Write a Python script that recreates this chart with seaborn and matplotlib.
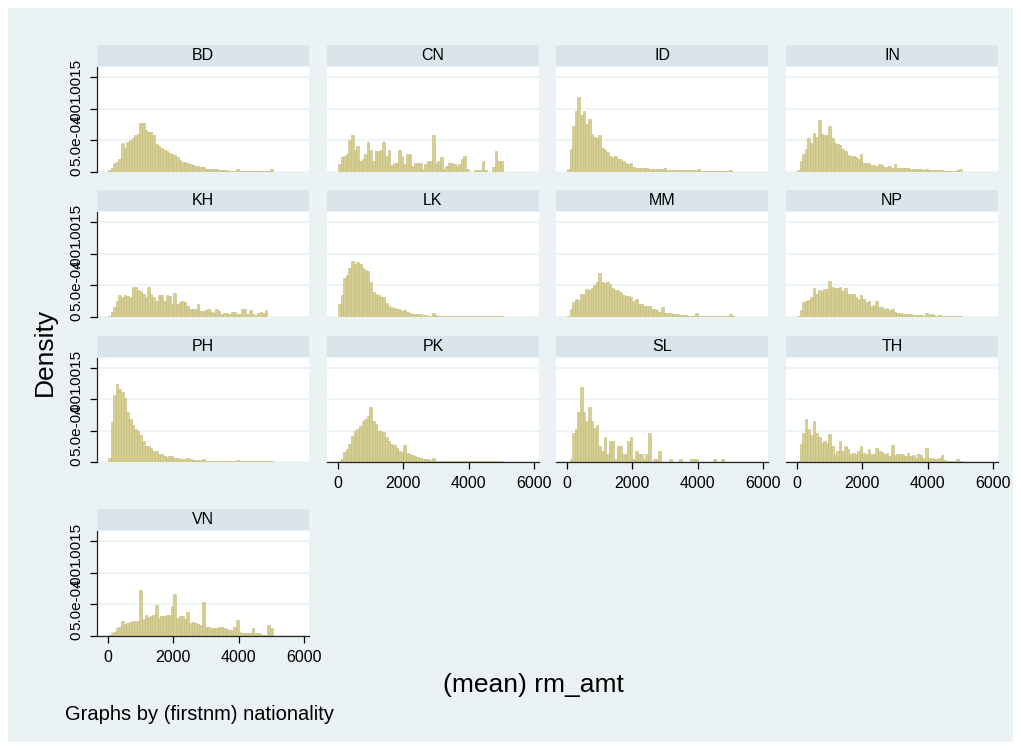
import numpy as np
import pandas as pd
import matplotlib
matplotlib.use("Agg")
import matplotlib.pyplot as plt
from matplotlib.patches import Rectangle
import seaborn as sns

# ---------------- data (bin densities, in units of 1e-5) ----------------
nationalities = ["BD", "CN", "ID", "IN", "KH", "LK", "MM", "NP", "PH", "PK", "SL", "TH", "VN"]
bin_width = 80
n_bins = 64

bd = [3, 6, 15, 16, 20, 46, 38, 47, 50, 53, 58, 60, 78, 78, 67, 63, 63, 59, 45, 41,
      38, 35, 33, 30, 29, 27, 24, 19, 16, 16, 14, 12, 11, 10, 10, 8, 8, 5, 5, 4,
      4, 4, 3, 3, 3, 3, 2, 2, 2, 4, 2, 2, 2, 2, 2, 2, 2, 2, 2, 2,
      2, 2, 4, 0]
cn = [12, 23, 25, 29, 50, 58, 34, 41, 18, 21, 29, 48, 35, 17, 33, 33, 35, 48, 26, 35,
      11, 15, 15, 35, 26, 12, 29, 29, 9, 15, 15, 15, 5, 12, 17, 17, 58, 14, 17, 23,
      5, 9, 15, 15, 12, 9, 12, 20, 26, 5, 0, 0, 3, 3, 3, 17, 3, 0, 0, 8,
      33, 17, 17, 0]
id_ = [4, 36, 73, 96, 119, 90, 97, 76, 83, 60, 55, 53, 58, 38, 34, 31, 26, 24, 25, 20,
       20, 17, 14, 12, 15, 8, 7, 7, 6, 6, 7, 5, 4, 4, 4, 4, 4, 6, 3, 3,
       3, 3, 3, 3, 3, 3, 3, 3, 3, 3, 5, 2, 2, 2, 2, 2, 2, 2, 2, 2,
       2, 2, 3, 0]
in_ = [3, 18, 28, 37, 54, 46, 62, 55, 82, 60, 59, 58, 72, 53, 46, 45, 43, 37, 33, 27,
       26, 26, 23, 21, 28, 15, 14, 14, 11, 11, 10, 13, 11, 8, 8, 9, 6, 12, 6, 7,
       7, 6, 6, 5, 5, 4, 4, 4, 3, 5, 3, 3, 3, 3, 3, 3, 2, 2, 2, 2,
       2, 3, 4, 0]
kh = [1, 8, 16, 26, 34, 32, 35, 33, 31, 48, 48, 43, 41, 37, 32, 48, 37, 32, 26, 35,
      34, 26, 34, 33, 21, 38, 21, 24, 26, 24, 18, 13, 13, 12, 20, 9, 9, 11, 12, 8,
      7, 12, 9, 5, 7, 7, 5, 8, 8, 4, 5, 12, 12, 4, 11, 4, 3, 7, 8, 7,
      11, 0, 0, 0]
lk = [20, 34, 61, 66, 78, 88, 83, 87, 83, 78, 74, 72, 55, 40, 37, 34, 32, 31, 22, 17,
      16, 14, 12, 12, 9, 11, 8, 6, 5, 5, 4, 4, 3, 3, 2, 2, 7, 3, 2, 1,
      1, 1, 1, 1, 1, 1, 1, 1, 1, 1, 1, 1, 1, 1, 1, 1, 1, 1, 1, 1,
      1, 1, 1, 0]
mm = [1, 12, 23, 29, 27, 37, 37, 44, 42, 46, 50, 55, 69, 56, 54, 55, 52, 46, 43, 42,
      40, 34, 33, 33, 31, 25, 29, 21, 20, 18, 18, 17, 13, 12, 11, 8, 16, 7, 6, 6,
      5, 4, 4, 3, 3, 3, 2, 2, 2, 6, 1, 1, 2, 1, 2, 1, 2, 1, 1, 1,
      1, 2, 4, 1]
np_ = [1, 11, 24, 26, 27, 32, 46, 36, 42, 41, 44, 44, 57, 48, 46, 46, 47, 41, 46, 36,
       36, 36, 32, 29, 34, 28, 24, 26, 18, 19, 25, 16, 16, 13, 15, 11, 13, 8, 6, 6,
       5, 4, 5, 4, 3, 3, 3, 3, 2, 7, 3, 4, 3, 2, 3, 2, 2, 2, 2, 2,
       1, 2, 1, 0]
ph = [7, 64, 107, 125, 117, 112, 102, 80, 68, 59, 52, 50, 43, 33, 26, 25, 22, 18, 18, 13,
      12, 10, 8, 9, 9, 7, 7, 5, 5, 5, 6, 4, 3, 3, 3, 3, 4, 2, 2, 2,
      2, 2, 2, 2, 2, 2, 2, 2, 2, 3, 2, 2, 2, 2, 2, 2, 2, 2, 2, 2,
      2, 2, 2, 0]
pk = [1, 5, 16, 20, 29, 41, 50, 53, 58, 66, 69, 74, 88, 66, 61, 50, 50, 48, 40, 34,
      29, 27, 22, 18, 16, 27, 15, 13, 11, 9, 8, 6, 5, 4, 4, 3, 6, 2, 2, 2,
      1, 1, 1, 1, 1, 1, 1, 1, 1, 2, 1, 1, 1, 1, 1, 1, 1, 1, 1, 1,
      1, 1, 1, 0]
sl = [0, 4, 46, 53, 80, 120, 80, 66, 87, 66, 54, 59, 26, 18, 40, 12, 33, 33, 5, 26,
      26, 12, 12, 33, 40, 5, 18, 12, 12, 5, 12, 46, 0, 5, 5, 18, 0, 0, 0, 5,
      0, 0, 0, 5, 0, 0, 0, 5, 5, 5, 0, 0, 0, 0, 0, 0, 5, 0, 0, 5,
      0, 0, 0, 0]
th = [1, 29, 47, 69, 53, 43, 66, 46, 40, 31, 34, 31, 45, 26, 13, 18, 34, 18, 26, 21,
      12, 15, 13, 18, 26, 15, 13, 21, 12, 12, 22, 18, 16, 13, 14, 9, 27, 11, 13, 13,
      13, 9, 14, 9, 11, 6, 12, 11, 6, 22, 7, 6, 4, 4, 7, 11, 3, 2, 2, 1,
      2, 5, 1, 0]
vn = [1, 5, 7, 12, 14, 24, 19, 21, 22, 23, 23, 23, 72, 27, 33, 30, 32, 33, 49, 29,
      32, 32, 33, 33, 47, 66, 29, 31, 31, 27, 38, 21, 22, 21, 19, 17, 53, 14, 14, 13,
      12, 13, 14, 14, 13, 11, 9, 9, 15, 25, 6, 5, 5, 5, 5, 12, 4, 4, 3, 2,
      2, 18, 12, 0]

yticks = [0, 0.0005, 0.001, 0.0015]
ytick_labels = ["0", "5.0e-04", ".001", ".0015"]
xticks = [0, 2000, 4000, 6000]
xtick_labels = ["0", "2000", "4000", "6000"]

series = [bd, cn, id_, in_, kh, lk, mm, np_, ph, pk, sl, th, vn]
mids = (np.arange(n_bins) + 0.5) * bin_width
records = []
for nat, vals in zip(nationalities, series):
    for m, v in zip(mids, vals):
        records.append((nat, float(m), v * 1e-5))
df = pd.DataFrame(records, columns=["nationality", "rm_amt", "density"])

# ---------------- style ----------------
sns.set_style("white")
plt.rcParams["font.family"] = ["Liberation Sans", "DejaVu Sans"]
plt.rcParams["text.color"] = "black"
plt.rcParams["axes.labelcolor"] = "black"
plt.rcParams["xtick.color"] = "black"
plt.rcParams["ytick.color"] = "black"

BG = "#EAF2F3"
STRIP = "#D9E5EA"
FILL = "#D6CD93"
EDGE = "#C4BA79"

W, H = 1021, 750
fig = plt.figure(figsize=(W / 100, H / 100), dpi=100, facecolor="white")
fig.patches.append(Rectangle((8 / W, 8 / H), (1013 - 8) / W, (742 - 8) / H,
                             transform=fig.transFigure, facecolor=BG,
                             edgecolor="none", zorder=-10))

col_left = [97, 327, 556, 786]
col_w = 212
row_tb = [(67, 172), (212, 317), (358, 462), (531, 636)]
strip_h = 21

def fax(l, t, w, h):
    return fig.add_axes([l / W, 1 - (t + h) / H, w / W, h / H])

for k, nat in enumerate(nationalities):
    r, c = divmod(k, 4)
    top, bot = row_tb[r]
    ax = fax(col_left[c], top, col_w, bot - top)
    sub = df[df["nationality"] == nat]
    sns.histplot(data=sub, x="rm_amt", weights="density",
                 binwidth=bin_width, binrange=(0, bin_width * n_bins),
                 stat="count", color=FILL, edgecolor=EDGE, linewidth=0.4,
                 alpha=1, ax=ax)
    ax.set_facecolor("white")
    ax.set_xlim(-338, 6154)
    ax.set_ylim(0, 0.001658)
    ax.set_xlabel("")
    ax.set_ylabel("")
    ax.set_yticks(yticks)
    ax.set_xticks(xticks)
    ax.yaxis.grid(True, color=BG, linewidth=1.2)
    ax.xaxis.grid(False)
    ax.set_axisbelow(True)
    for s in ax.spines.values():
        s.set_visible(False)

    show_y = (c == 0)
    show_x = (r == 3) or (r == 2 and c >= 1)
    if show_y:
        ax.spines["left"].set_visible(True)
        ax.spines["left"].set_color("#222222")
        ax.spines["left"].set_linewidth(0.9)
        ax.set_yticklabels(ytick_labels, rotation=90, va="center")
        ax.tick_params(axis="y", left=True, length=5, width=0.9, pad=5,
                       labelsize=11, colors="black")
    else:
        ax.tick_params(axis="y", left=False, labelleft=False)
    if show_x:
        ax.spines["bottom"].set_visible(True)
        ax.spines["bottom"].set_color("#222222")
        ax.spines["bottom"].set_linewidth(0.9)
        ax.set_xticklabels(xtick_labels)
        ax.tick_params(axis="x", bottom=True, length=5, width=0.9, pad=5,
                       labelsize=11.5, colors="black")
    else:
        ax.tick_params(axis="x", bottom=False, labelbottom=False)

    sax = fax(col_left[c], top - strip_h - 1, col_w, strip_h)
    sax.set_facecolor(STRIP)
    sax.set_xticks([])
    sax.set_yticks([])
    for s in sax.spines.values():
        s.set_visible(False)
    sax.text(0.5, 0.5, nat, ha="center", va="center", fontsize=11.5,
             color="black", transform=sax.transAxes)

fig.text(45 / W, 1 - 352 / H, "Density", rotation=90, ha="center", va="center",
         fontsize=19, color="black")
fig.text(533 / W, 1 - 685 / H, "(mean) rm_amt", ha="center", va="center",
         fontsize=19, color="black")
fig.text(65 / W, 1 - 714 / H, "Graphs by (firstnm) nationality", ha="left",
         va="center", fontsize=14.5, color="black")

fig.savefig("out.png", dpi=100, facecolor=fig.get_facecolor())
